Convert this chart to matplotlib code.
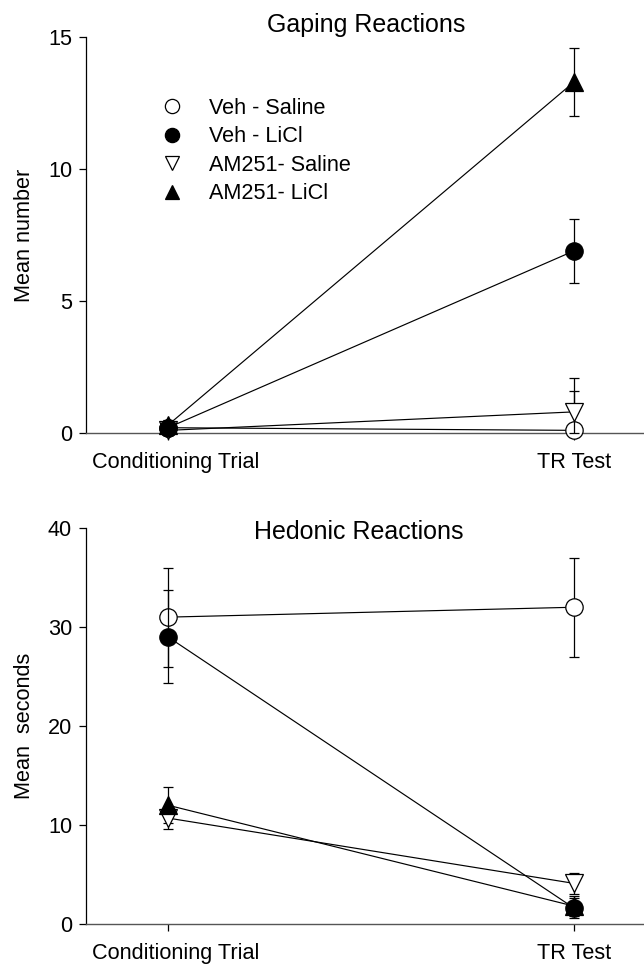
import matplotlib
matplotlib.use("Agg")
import matplotlib.pyplot as plt
import matplotlib.transforms as mtransforms

plt.rcParams['font.family'] = ['Liberation Sans', 'DejaVu Sans']

# groups and sessions
groups = ["Veh - Saline", "Veh - LiCl", "AM251- Saline", "AM251- LiCl"]
sessions = ["Conditioning Trial", "TR Test"]

# gaping reactions (mean number)
gaping_ct = [0.2, 0.2, 0.1, 0.3]
gaping_ct_err = [0.1, 0.1, 0.1, 0.2]
gaping_tr = [0.1, 6.9, 0.8, 13.3]
gaping_tr_err = [1.5, 1.2, 1.3, 1.3]

# hedonic reactions (mean seconds)
hedonic_ct = [31.0, 29.0, 10.7, 12.0]
hedonic_ct_err = [5.0, 4.7, 1.1, 1.8]
hedonic_tr = [32.0, 1.6, 4.1, 1.8]
hedonic_tr_err = [5.0, 1.0, 1.1, 1.0]

markers = ['o', 'o', 'v', '^']
faces = ['white', 'black', 'white', 'black']
zorders = [3, 5, 4, 4]
FS = 15.6

fig = plt.figure(figsize=(6.44, 9.65), dpi=100)
ax1 = fig.add_axes([0.1335, 0.5513, 0.8665, 0.4104])
ax2 = fig.add_axes([0.1335, 0.0425, 0.8665, 0.4103])

def draw_panel(ax, ct, ct_err, tr, tr_err, ymax, yticks, ylabel, legend=False):
    x = [0, 1]
    for i, g in enumerate(groups):
        vals = [ct[i], tr[i]]
        errs = [ct_err[i], tr_err[i]]
        # bars don't go below the axis
        lower = [min(e, v) for e, v in zip(errs, vals)]
        ax.errorbar(x, vals, yerr=[lower, errs],
                    color='black', lw=0.85, elinewidth=0.9, capsize=3.5, capthick=0.9,
                    marker=markers[i], markersize=12.5, markerfacecolor=faces[i],
                    markeredgecolor='black', markeredgewidth=0.9,
                    label=g, zorder=zorders[i], clip_on=False)
    ax.set_xlim(-0.202, 1.172)
    ax.set_ylim(0, ymax)
    ax.set_yticks(yticks)
    ax.set_xticks(x)
    ax.set_xticklabels(sessions)
    ax.spines['top'].set_visible(False)
    ax.spines['right'].set_visible(False)
    ax.spines['left'].set_linewidth(0.9)
    ax.spines['bottom'].set_linewidth(1.0)
    ax.spines['bottom'].set_color('#555555')
    ax.tick_params(direction='out', length=5, width=0.9, labelsize=FS, pad=5)
    ax.tick_params(axis='x', pad=9)
    ax.set_ylabel(ylabel, fontsize=FS, labelpad=9)
    # first category label sits a bit right of its tick
    lab = ax.get_xticklabels()[0]
    lab.set_transform(lab.get_transform() + mtransforms.ScaledTranslation(0.08, 0, fig.dpi_scale_trans))
    if legend:
        h, l = ax.get_legend_handles_labels()
        h = [hh[0] for hh in h]
        leg = ax.legend(h, l, loc='upper left', bbox_to_anchor=(0.1, 0.895),
                        frameon=False, fontsize=FS, handlelength=1.0,
                        handletextpad=1.2, labelspacing=0.34, markerscale=0.82)
        for lh in leg.legend_handles:
            lh.set_linestyle('none')

draw_panel(ax1, gaping_ct, gaping_ct_err, gaping_tr, gaping_tr_err,
           15, [0, 5, 10, 15], "Mean number", legend=True)
draw_panel(ax2, hedonic_ct, hedonic_ct_err, hedonic_tr, hedonic_tr_err,
           40, [0, 10, 20, 30, 40], "Mean  seconds")

fig.text(366 / 644, 1 - 25 / 965, "Gaping Reactions", ha='center', va='center', fontsize=18)
fig.text(359 / 644, 1 - 532 / 965, "Hedonic Reactions", ha='center', va='center', fontsize=18)

fig.savefig("out.png", dpi=100)
